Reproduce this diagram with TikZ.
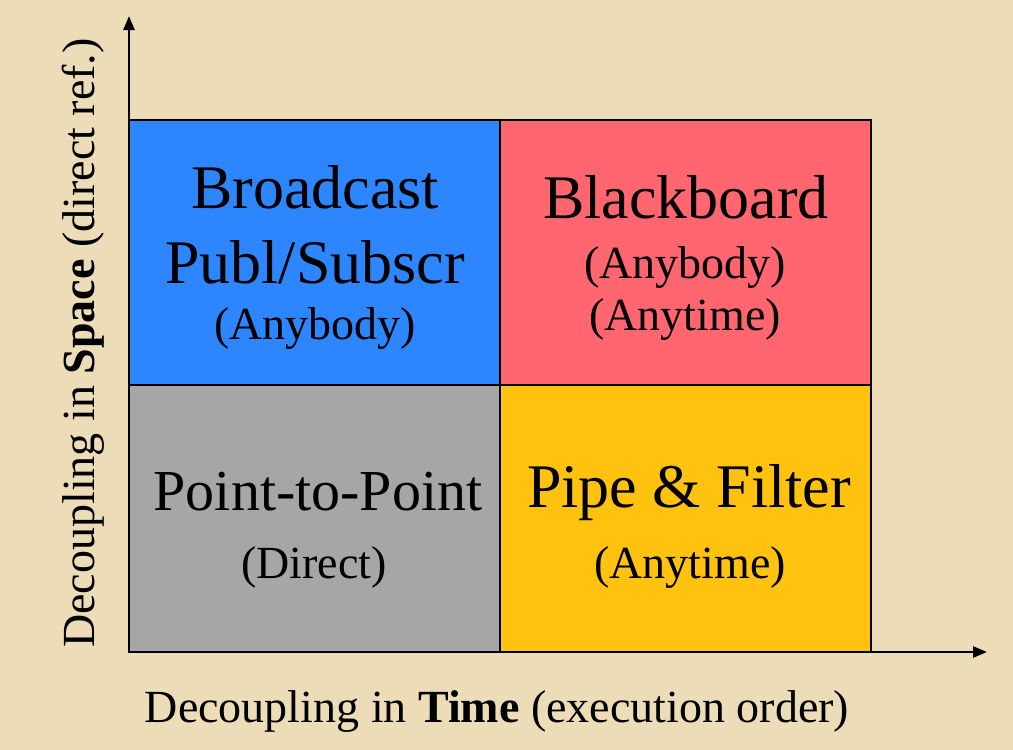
\documentclass[tikz,border=0pt]{standalone}
\usepackage{fontspec}
\setmainfont{Liberation Serif}
\usetikzlibrary{arrows.meta}
\definecolor{parchment}{HTML}{ECDDB8}
\definecolor{cellblue}{HTML}{2E86FF}
\definecolor{cellred}{HTML}{FF6670}
\definecolor{cellgray}{HTML}{A6A6A6}
\definecolor{cellyellow}{HTML}{FFC20F}
\begin{document}
\begin{tikzpicture}[x=1pt,y=-1pt]
    \tikzset{cell/.style={draw=black,line width=1.6pt},
        big/.style={anchor=base,font=\fontsize{62}{68}\selectfont},
        small/.style={anchor=base,font=\fontsize{46}{50}\selectfont},
        axis/.style={line width=2.6pt,-{Triangle[length=14pt,width=11pt]}}}

    \fill[parchment] (0,0) rectangle (1013,750);
    \useasboundingbox (0,0) rectangle (1013,750);

    \filldraw[cell,fill=cellblue] (129,120) rectangle (500,385);
    \filldraw[cell,fill=cellred] (500,120) rectangle (871,385);
    \filldraw[cell,fill=cellgray] (129,385) rectangle (500,652);
    \filldraw[cell,fill=cellyellow] (500,385) rectangle (871,652);

    \node[big] (broad) at (315,208) {Broadcast};
    \node[big] (pubsub) at (315,283) {Publ/Subscr};
    \node[small] (anybodyA) at (315,339) {(Anybody)};

    \node[big] (black) at (686,218) {Blackboard};
    \node[small] (anybodyB) at (685,278) {(Anybody)};
    \node[small] (anytimeA) at (685,330) {(Anytime)};

    \node[big,font=\fontsize{58}{63}\selectfont] (p2p) at (318,510) {Point-to-Point};
    \node[small] (direct) at (314,578) {(Direct)};

    \node[big] (pipe) at (689,507) {Pipe \& Filter};
    \node[small] (anytimeB) at (690,578) {(Anytime)};

    \coordinate (origin) at (129,652);
    \coordinate (ytip) at (129,16);
    \coordinate (xtip) at (987,652);
    \draw[axis] (origin) -- (ytip);
    \draw[axis] (origin) -- (xtip);

    \node[small] (xlab) at (497,722) {Decoupling in \textbf{Time} (execution order)};
    \node[small,rotate=90] (ylab) at (94,343) {Decoupling in \textbf{Space} (direct ref.)};
\end{tikzpicture}
\end{document}
